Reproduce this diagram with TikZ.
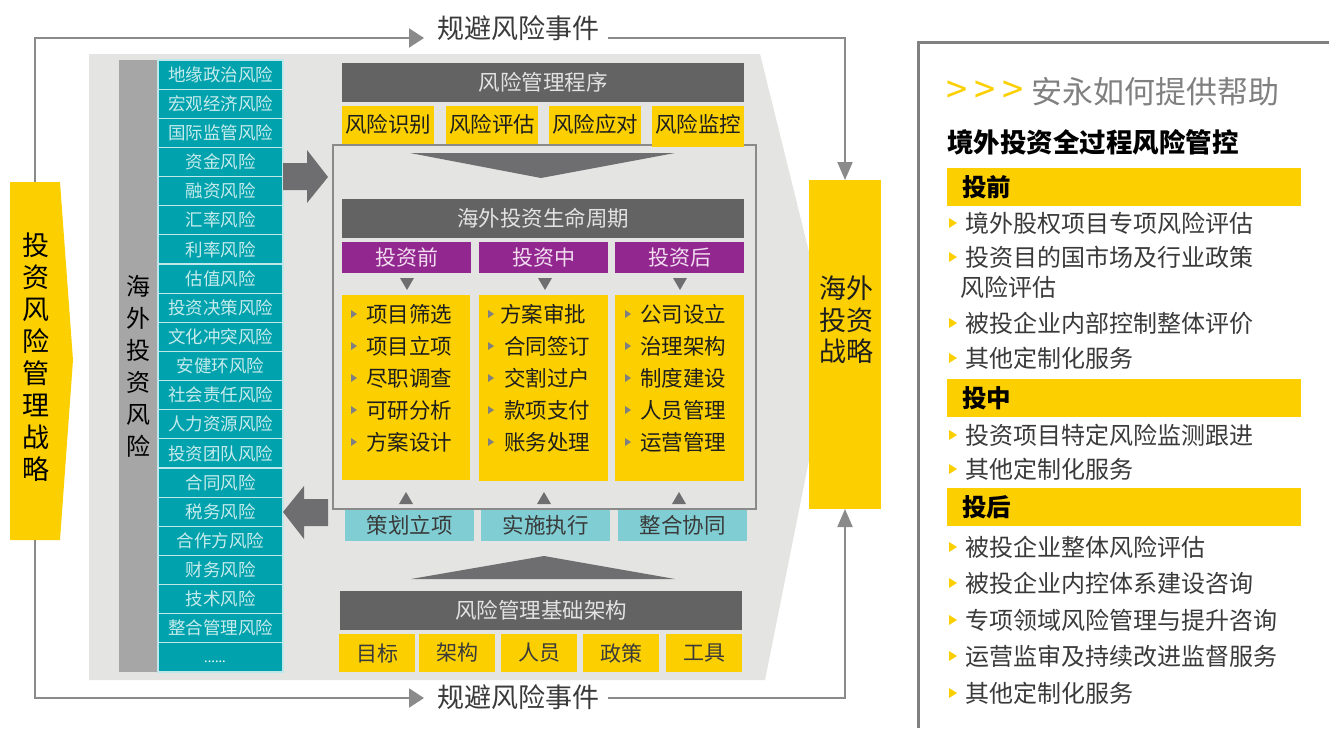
\documentclass[tikz,border=0pt]{standalone}
\usepackage{fontspec}
\setmainfont{Noto Sans CJK SC}
\usetikzlibrary{arrows.meta}
\definecolor{ey}{HTML}{FCD000}
\definecolor{bgc}{HTML}{E4E4E2}
\definecolor{tl}{HTML}{00A3AD}
\definecolor{tltx}{HTML}{C6EBEC}
\definecolor{barc}{HTML}{A6A6A6}
\definecolor{hd}{HTML}{636363}
\definecolor{hdtx}{HTML}{E2E2E2}
\definecolor{pu}{HTML}{92278F}
\definecolor{putx}{HTML}{F2DDF0}
\definecolor{lt}{HTML}{80CED4}
\definecolor{arc}{HTML}{6E6E70}
\definecolor{lnc}{HTML}{8A8A8A}
\definecolor{gtx}{HTML}{808080}
\definecolor{dtx}{HTML}{3A3A3A}
\definecolor{btx}{HTML}{1E1E1E}
\newcommand\fsz[1]{\fontsize{#1}{#1}\selectfont}
\newcommand\bx[7]{\node[#6, minimum width={(#4)-(#2)}, minimum height={(#5)-(#3)}] (#1) at ({((#2)+(#4))/2},{((#3)+(#5))/2}) {#7};}
\newcommand\rb[3]{\fill[ey] (949,{#2-5}) -- (957,#2) -- (949,{#2+5}) -- cycle; \node[ritem, anchor=west] (#1) at (965,#2) {#3};}
\tikzset{
  every node/.style={inner sep=0pt, outer sep=0pt},
  tealbox/.style={fill=tl, draw=white!75!tl, line width=1.2pt, text=tltx, font=\fsz{17.5}},
  hdr/.style={fill=hd, text=hdtx, font=\fsz{21.5}},
  ybox/.style={fill=ey, text=btx, font=\fsz{21.5}},
  ybot/.style={fill=ey, text=dtx, font=\fsz{21}},
  pbox/.style={fill=pu, text=putx, font=\fsz{21}},
  lbox/.style={fill=lt, text=dtx, font=\fsz{21.5}},
  item/.style={text=btx, font=\fsz{21.5}, anchor=west},
  ritem/.style={text=dtx, font=\fsz{24}},
  conn/.style={draw=lnc, line width=2pt},
  harrow/.style={-{Triangle[length=15pt,width=19pt]}},
  varrow/.style={-{Triangle[length=18pt,width=15pt]}},
}
\begin{document}
\begin{tikzpicture}[x=1pt,y=-1pt]
\useasboundingbox (0,0) rectangle (1329,728);
\fill[white] (0,0) rectangle (1329,728);
% big grey background
\fill[bgc] (89,54) -- (760,54) -- (832,345) -- (765,680) -- (89,680) -- cycle;
% left strategy
\fill[ey] (10,182) -- (60,182) -- (73,360) -- (60,540) -- (10,540) -- cycle;
\node[align=center, text=black, font={\fontsize{27}{32}\selectfont}] (lstrat) at (36,357) {投\\资\\风\\险\\管\\理\\战\\略};
\coordinate (ltop) at (35,182);
\coordinate (lbot) at (35,540);
% grey bar
\bx{bar}{119}{60}{158}{672}{fill=barc}{}
\node[align=center, text=black, font={\fontsize{24}{32}\selectfont}] (bartxt) at (138,366) {海\\外\\投\\资\\风\\险};
% teal list
\foreach \t [count=\i from 0] in {地缘政治风险,宏观经济风险,国际监管风险,资金风险,融资风险,汇率风险,利率风险,估值风险,投资决策风险,文化冲突风险,安健环风险,社会责任风险,人力资源风险,投资团队风险,合同风险,税务风险,合作方风险,财务风险,技术风险,整合管理风险}{
  \bx{r\i}{158}{60+29.14*\i}{283}{60+29.14*(\i+1)}{tealbox}{\t}
}
\bx{r20}{158}{60+29.14*20}{283}{672}{tealbox}{}
\node[text=white, font=\fsz{13}] (dots) at (215,662) {......};
% block arrows
\fill[arc] (283,163) -- (307,163) -- (307,150) -- (328,177) -- (307,203) -- (307,190) -- (283,190) -- cycle;
\fill[arc] (328,499) -- (304,499) -- (304,486) -- (283,512) -- (304,539) -- (304,526) -- (328,526) -- cycle;
% centre frame
\draw[draw=lnc, line width=2pt] (333,145) rectangle (756,509);
\bx{hproc}{342}{63}{744}{102}{hdr}{风险管理程序}
\bx{s1}{342}{106}{434}{143.5}{ybox}{风险识别}
\bx{s2}{446}{106}{538}{143.5}{ybox}{风险评估}
\bx{s3}{549}{106}{641}{143.5}{ybox}{风险应对}
\fill[ey] (652,140) rectangle (744,147);
\bx{s4}{652}{106}{744}{143.5}{ybox}{风险监控}
\fill[arc] (410,153) -- (675,153) -- (541,178) -- cycle;
\bx{hlife}{342}{199}{744}{238}{hdr}{海外投资生命周期}
\bx{p1}{342}{242}{471}{273}{pbox}{投资前}
\bx{p2}{479}{242}{608}{273}{pbox}{投资中}
\bx{p3}{615}{242}{744}{273}{pbox}{投资后}
\foreach \cx in {407,545,680}{\fill[arc] ({\cx-7},278) -- ({\cx+7},278) -- (\cx,290) -- cycle;}
\bx{c1}{342}{295}{470}{480}{fill=ey}{}
\bx{c2}{479}{295}{608}{481}{fill=ey}{}
\bx{c3}{615}{295}{744}{481}{fill=ey}{}
\foreach \t [count=\k from 0] in {项目筛选,项目立项,尽职调查,可研分析,方案设计}{
  \fill[gtx] (351,{314+32*\k-4}) -- (357,{314+32*\k}) -- (351,{314+32*\k+4}) -- cycle;
  \node[item] (ca\k) at (366,{314+32*\k}) {\t};
}
\foreach \t [count=\k from 0] in {方案审批,合同签订,交割过户,款项支付,账务处理}{
  \fill[gtx] (488,{314+32*\k-4}) -- (494,{314+32*\k}) -- (488,{314+32*\k+4}) -- cycle;
  \pgfmathsetmacro{\tx}{ifthenelse(\k==0,500,504)}
  \node[item] (cb\k) at (\tx,{314+32*\k}) {\t};
}
\foreach \t [count=\k from 0] in {公司设立,治理架构,制度建设,人员管理,运营管理}{
  \fill[gtx] (625,{314+32*\k-4}) -- (631,{314+32*\k}) -- (625,{314+32*\k+4}) -- cycle;
  \node[item] (cc\k) at (640,{314+32*\k}) {\t};
}
\foreach \cx in {406,544,679}{\fill[arc] ({\cx-7},504) -- ({\cx+7},504) -- (\cx,492) -- cycle;}
\bx{t1}{345}{510}{474}{541}{lbox}{策划立项}
\bx{t2}{481}{510}{610}{541}{lbox}{实施执行}
\bx{t3}{618}{510}{747}{541}{lbox}{整合协同}
\fill[arc] (411,579) -- (544,556) -- (675,579) -- cycle;
\bx{hbase}{340}{591}{742}{630}{hdr}{风险管理基础架构}
\bx{b1}{339}{634}{415}{672}{ybot}{目标}
\bx{b2}{419}{634}{495}{672}{ybot}{架构}
\bx{b3}{501}{634}{577}{672}{ybot}{人员}
\bx{b4}{583}{634}{659}{672}{ybot}{政策}
\bx{b5}{666}{634}{742}{672}{ybot}{工具}
% right strategy
\bx{rstrat}{809}{180}{881}{509}{fill=ey}{}
\node[align=center, text=btx, font={\fontsize{27}{31.5}\selectfont}] (rstxt) at (846,320) {海外\\投资\\战略};
% connectors
\coordinate (topa) at (424,38);
\coordinate (topb) at (608,38);
\coordinate (bota) at (424,698);
\coordinate (botb) at (608,698);
\draw[conn, harrow] (ltop) |- (topa);
\node[text=dtx, font=\fsz{27}] (toplbl) at (518,28) {规避风险事件};
\draw[conn, varrow] (topb) -| (rstrat.north);
\draw[conn, harrow] (lbot) |- (bota);
\node[text=dtx, font=\fsz{27}] (botlbl) at (518,697) {规避风险事件};
\draw[conn, varrow] (botb) -| (rstrat.south);
% right panel
\draw[draw=gtx, line width=3pt] (918,728) -- (918,42) -- (1329,42);
\node[text=ey, font=\fsz{38}] (g1) at (957,92) {>};
\node[text=ey, font=\fsz{38}] (g2) at (985.5,92) {>};
\node[text=ey, font=\fsz{38}] (g3) at (1013.5,92) {>};
\node[anchor=west, text=gtx, font=\fsz{31}] (rtitle) at (1031,92) {安永如何提供帮助};
\node[anchor=west, text=black, font=\fsz{26.5}\bfseries] (rsub) at (947,142) {境外投资全过程风险管控};
\bx{band1}{947}{168}{1301}{206}{fill=ey}{}
\node[anchor=west, text=black, font=\fsz{24.5}\bfseries] (l1) at (962,187) {投前};
\rb{i1}{223}{境外股权项目专项风险评估}
\rb{i2}{257}{投资目的国市场及行业政策}
\node[ritem, anchor=west] (i2b) at (960,287) {风险评估};
\rb{i3}{323}{被投企业内部控制整体评价}
\rb{i4}{358}{其他定制化服务}
\bx{band2}{947}{379}{1301}{417}{fill=ey}{}
\node[anchor=west, text=black, font=\fsz{24.5}\bfseries] (l2) at (962,398) {投中};
\rb{i5}{435}{投资项目特定风险监测跟进}
\rb{i6}{469}{其他定制化服务}
\bx{band3}{947}{488}{1301}{526}{fill=ey}{}
\node[anchor=west, text=black, font=\fsz{24.5}\bfseries] (l3) at (962,507) {投后};
\rb{i7}{547}{被投企业整体风险评估}
\rb{i8}{583}{被投企业内控体系建设咨询}
\rb{i9}{620}{专项领域风险管理与提升咨询}
\rb{i10}{656}{运营监审及持续改进监督服务}
\rb{i11}{693}{其他定制化服务}
\end{tikzpicture}
\end{document}
